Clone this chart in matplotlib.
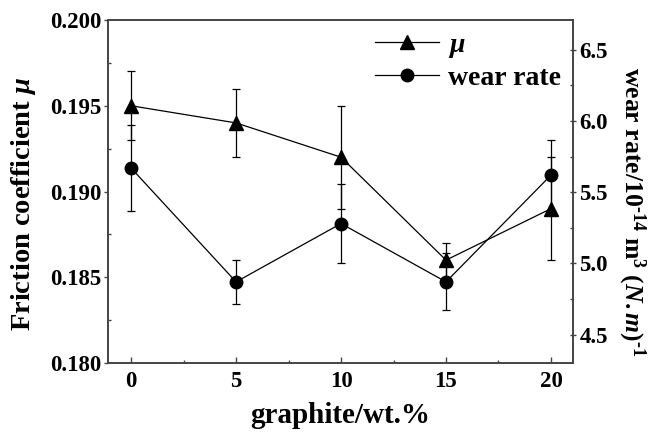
import matplotlib
matplotlib.use("Agg")
import matplotlib.pyplot as plt
from matplotlib.ticker import MultipleLocator

plt.rcParams['font.family'] = ['Liberation Serif', 'DejaVu Serif']
plt.rcParams['font.weight'] = 'bold'
plt.rcParams['mathtext.fontset'] = 'custom'
plt.rcParams['mathtext.rm'] = 'Liberation Serif:bold'
plt.rcParams['mathtext.it'] = 'Liberation Serif:italic:bold'
plt.rcParams['mathtext.bf'] = 'Liberation Serif:bold'

# graphite content (wt.%)
graphite = [0, 5, 10, 15, 20]

# friction coefficient and its error
mu = [0.195, 0.194, 0.192, 0.186, 0.189]
mu_err = [0.002, 0.002, 0.003, 0.001, 0.003]

# wear rate (10^-14 m^3/(N.m)) and its error
wear = [5.67, 4.87, 5.28, 4.87, 5.62]
wear_err = [0.30, 0.155, 0.28, 0.20, 0.25]

spine_col = '#444444'

fig = plt.figure(figsize=(6.53, 4.37), dpi=100)
ax = fig.add_axes([0.1654, 0.1693, 0.7121, 0.7849])
ax2 = ax.twinx()

ax.errorbar(graphite, mu, yerr=mu_err, fmt='none', ecolor='black',
            elinewidth=0.9, capsize=2.6, capthick=0.9)
line_mu, = ax.plot(graphite, mu, color='black', lw=0.9, marker='^',
                   markersize=10, label=r'$\mu$')

ax2.errorbar(graphite, wear, yerr=wear_err, fmt='none', ecolor='black',
             elinewidth=0.9, capsize=2.6, capthick=0.9)
line_wear, = ax2.plot(graphite, wear, color='black', lw=0.9, marker='o',
                      markersize=9, label='wear rate')

ax.set_xlim(-1.1, 21.05)
ax.set_ylim(0.180, 0.200)
ax2.set_ylim(4.30, 6.71)

ax.xaxis.set_major_locator(MultipleLocator(5))
ax.xaxis.set_minor_locator(MultipleLocator(2.5))
ax.yaxis.set_major_locator(MultipleLocator(0.005))
ax.yaxis.set_minor_locator(MultipleLocator(0.0025))
ax2.yaxis.set_major_locator(MultipleLocator(0.5))
ax2.yaxis.set_minor_locator(MultipleLocator(0.25))
ax.yaxis.set_major_formatter(plt.FormatStrFormatter('%.3f'))
ax2.yaxis.set_major_formatter(plt.FormatStrFormatter('%.1f'))

ax.tick_params(axis='x', which='major', direction='in', length=4, width=1,
               labelsize=16.5, pad=6, top=False, color=spine_col)
ax.tick_params(axis='x', which='minor', direction='in', length=2.5, width=1,
               top=False, color=spine_col)
ax.tick_params(axis='y', which='major', direction='out', length=3, width=1,
               labelsize=16.5, pad=2, color=spine_col)
ax.tick_params(axis='y', which='minor', direction='in', length=2.5, width=1,
               color=spine_col)
ax2.tick_params(axis='y', which='major', direction='inout', length=5, width=1,
                labelsize=16.5, pad=2, color=spine_col)
ax2.tick_params(axis='y', which='minor', direction='in', length=2.5, width=1,
                color=spine_col)

for a in (ax, ax2):
    for s in a.spines.values():
        s.set_color(spine_col)
        s.set_linewidth(1.2)

ax.set_xlabel('graphite/wt.%', fontsize=21, fontweight='bold', labelpad=7)
ax.set_ylabel(r'Friction coefficient $\mu$', fontsize=20.5, fontweight='bold',
              va='center')
ax.yaxis.set_label_coords(-0.182, 0.465)
ax2.set_ylabel(r'wear rate/10$^{\text{-}14}$ m$^{3}$ $(N.m)^{\text{-}1}$',
               fontsize=18.5, fontweight='bold', rotation=-90, va='center')
ax2.yaxis.set_label_coords(1.127, 0.44)

ax2.legend(handles=[line_mu, line_wear], loc='upper right', frameon=False,
           prop={'size': 20, 'weight': 'bold'}, handlelength=2.3,
           handletextpad=0.3, labelspacing=0.2, borderaxespad=0.05)

fig.savefig('out.png', dpi=100)
